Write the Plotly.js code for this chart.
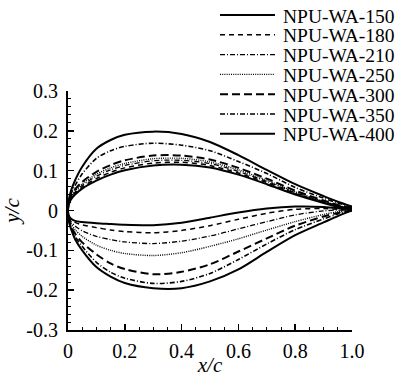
<!DOCTYPE html>
<html>
<head>
<meta charset="utf-8">
<script src="https://cdn.plot.ly/plotly-3.0.1.min.js"></script>
<style>html,body{margin:0;padding:0;background:#fff;}#chart{width:409px;height:377px;}</style>
</head>
<body>
<div id="chart"></div>
<script>
// chord stations (x/c)
const xStations = [0, 0.0025, 0.01, 0.025, 0.05, 0.1, 0.15, 0.2, 0.3, 0.4, 0.5, 0.6, 0.7, 0.8, 0.9, 0.95, 1.0];

// airfoil names
const airfoilNames = ["NPU-WA-150", "NPU-WA-180", "NPU-WA-210", "NPU-WA-250", "NPU-WA-300", "NPU-WA-350", "NPU-WA-400"];

// upper surfaces y/c
const upper150 = [0, 0.014, 0.027, 0.040, 0.055, 0.075, 0.090, 0.101, 0.113, 0.115, 0.108, 0.090, 0.066, 0.040, 0.019, 0.010, 0.004];
const upper180 = [0, 0.015, 0.029, 0.043, 0.059, 0.080, 0.096, 0.107, 0.119, 0.121, 0.113, 0.094, 0.070, 0.043, 0.021, 0.011, 0.004];
const upper210 = [0, 0.016, 0.031, 0.046, 0.063, 0.086, 0.102, 0.113, 0.125, 0.126, 0.118, 0.098, 0.073, 0.045, 0.022, 0.012, 0.005];
const upper250 = [0, 0.017, 0.033, 0.049, 0.067, 0.091, 0.107, 0.118, 0.130, 0.131, 0.122, 0.102, 0.076, 0.047, 0.023, 0.013, 0.005];
const upper300 = [0, 0.018, 0.035, 0.053, 0.072, 0.097, 0.114, 0.126, 0.138, 0.138, 0.128, 0.107, 0.080, 0.050, 0.025, 0.014, 0.006];
const upper350 = [0, 0.020, 0.040, 0.063, 0.092, 0.131, 0.150, 0.161, 0.169, 0.164, 0.150, 0.123, 0.093, 0.058, 0.031, 0.019, 0.009];
const upper400 = [0, 0.025, 0.048, 0.076, 0.110, 0.155, 0.177, 0.190, 0.198, 0.192, 0.172, 0.139, 0.102, 0.066, 0.036, 0.022, 0.010];

// lower surfaces y/c
const lower150 = [0, -0.012, -0.020, -0.026, -0.029, -0.032, -0.034, -0.036, -0.037, -0.031, -0.018, -0.005, 0.005, 0.010, 0.009, 0.006, 0.002];
const lower180 = [0, -0.012, -0.022, -0.030, -0.036, -0.043, -0.049, -0.053, -0.056, -0.050, -0.038, -0.022, -0.007, 0.003, 0.005, 0.003, 0];
const lower210 = [0, -0.014, -0.027, -0.039, -0.051, -0.065, -0.073, -0.079, -0.083, -0.077, -0.064, -0.046, -0.028, -0.011, -0.001, 0.001, 0];
const lower250 = [0, -0.017, -0.032, -0.048, -0.065, -0.087, -0.100, -0.108, -0.113, -0.106, -0.090, -0.071, -0.049, -0.028, -0.010, -0.003, 0];
const lower300 = [0, -0.020, -0.038, -0.058, -0.080, -0.110, -0.133, -0.147, -0.160, -0.154, -0.135, -0.103, -0.070, -0.038, -0.015, -0.006, 0];
const lower350 = [0, -0.022, -0.042, -0.065, -0.090, -0.130, -0.155, -0.170, -0.183, -0.178, -0.158, -0.123, -0.084, -0.048, -0.021, -0.009, 0];
const lower400 = [0, -0.025, -0.045, -0.072, -0.100, -0.142, -0.166, -0.182, -0.195, -0.195, -0.178, -0.148, -0.104, -0.062, -0.030, -0.014, 0];

// tick labels
const xTickVals = [0, 0.2, 0.4, 0.6, 0.8, 1.0];
const xTickLabels = ["0", "0.2", "0.4", "0.6", "0.8", "1.0"];
const yTickVals = [-0.3, -0.2, -0.1, 0, 0.1, 0.2, 0.3];
const yTickLabels = ["-0.3", "-0.2", "-0.1", "0", "0.1", "0.2", "0.3"];

const uppers = [upper150, upper180, upper210, upper250, upper300, upper350, upper400];
const lowers = [lower150, lower180, lower210, lower250, lower300, lower350, lower400];

const styles = [
  {dash: "solid", width: 2},
  {dash: "5px,4px", width: 1.5},
  {dash: "5px,2px,1px,2px", width: 1.3},
  {dash: "1px,1.2px", width: 1.4},
  {dash: "8px,4px", width: 2},
  {dash: "5px,2px,1px,2px", width: 1.6},
  {dash: "solid", width: 2}
];

const FONT = "Liberation Serif";

const traces = airfoilNames.map((name, i) => {
  const xr = xStations.slice().reverse();
  const yr = uppers[i].slice().reverse();
  const x = xr.concat(xStations.slice(1));
  const y = yr.concat(lowers[i].slice(1));
  return {
    type: "scatter", mode: "lines", name: name, x: x, y: y,
    line: {color: "#000", width: styles[i].width, dash: styles[i].dash, shape: "spline", smoothing: 0.8},
    showlegend: false, hoverinfo: "skip"
  };
});

// manual legend (paper coordinates) built from the names
const L = 68, T = 91, W = 284, H = 239;
const px2x = p => (p - L) / W;
const py2y = p => (T + H - p) / H;
const shapes = [], annotations = [];
airfoilNames.forEach((name, i) => {
  const py = 15 + i * 19.8;
  shapes.push({type: "line", xref: "paper", yref: "paper",
    x0: px2x(220), x1: px2x(275), y0: py2y(py), y1: py2y(py),
    line: {color: "#000", width: styles[i].width, dash: styles[i].dash}});
  annotations.push({xref: "paper", yref: "paper", x: px2x(281), y: py2y(py + 1),
    xanchor: "left", yanchor: "middle", showarrow: false, text: name,
    font: {family: FONT, size: 19.5, color: "#000"}});
});

const axisCommon = {
  showline: true, linecolor: "#000", linewidth: 2, mirror: false,
  showgrid: false, zeroline: false,
  ticks: "inside", ticklen: 6, tickwidth: 1.5, tickcolor: "#000",
  tickfont: {family: FONT, size: 20, color: "#000"},
  tickmode: "array"
};

const layout = {
  width: 409, height: 377,
  margin: {l: L, r: 409 - L - W, t: T, b: 377 - T - H, pad: 0},
  paper_bgcolor: "#fff", plot_bgcolor: "#fff",
  font: {family: FONT, color: "#000"},
  showlegend: false,
  xaxis: Object.assign({}, axisCommon, {
    range: [0, 1], tickvals: xTickVals, ticktext: xTickLabels,
    minor: {tickmode: "linear", tick0: 0, dtick: 0.05, ticks: "inside", ticklen: 3, tickwidth: 1, tickcolor: "#000"},
    ticklabelstandoff: 2,
    title: {text: "x/c", standoff: 2, font: {family: FONT, size: 21, color: "#000", style: "italic"}}
  }),
  yaxis: Object.assign({}, axisCommon, {
    range: [-0.3, 0.3], tickvals: yTickVals, ticktext: yTickLabels,
    minor: {tickmode: "linear", tick0: 0, dtick: 0.02, ticks: "inside", ticklen: 3, tickwidth: 1, tickcolor: "#000"},
    ticklabelstandoff: 4,
    title: {text: "y/c", standoff: 6, font: {family: FONT, size: 21, color: "#000", style: "italic"}}
  }),
  shapes: shapes,
  annotations: annotations
};

Plotly.newPlot("chart", traces, layout, {staticPlot: true, displayModeBar: false});
</script>
</body>
</html>
